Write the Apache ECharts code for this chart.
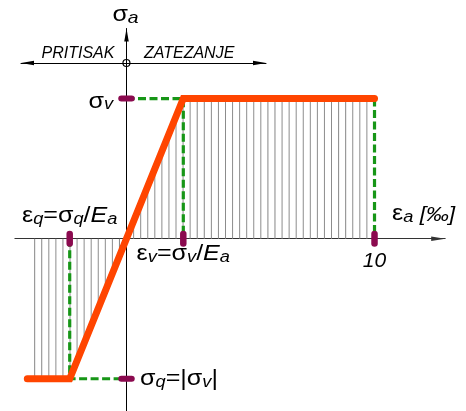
<!DOCTYPE html>
<html>
<head>
<meta charset="utf-8">
<script src="https://cdn.jsdelivr.net/npm/echarts@6/dist/echarts.min.js"></script>
<style>
  html, body { margin: 0; padding: 0; background: #fff; }
  #chart { width: 466px; height: 411px; }
</style>
</head>
<body>
<div id="chart"></div>
<script>
// Idealised σ–ε diagram of reinforcing steel (elastic – perfectly plastic),
// compression to the left, tension to the right.

// working diagram: strain ε_a [‰] and stress σ_a / σ_v
const curveStrain = [-4.0, -2.29, 2.29, 10];
const curveStress = [-1, -1, 1, 1];

// hatched region between the diagram and the strain axis
const hatchStrain = [-3.78, -2.29, 2.29, 9.8];
const hatchStress = [-1, -1, 1, 1];

// characteristic points
const yieldStrain = 2.29;   // ε_v = σ_v / E_a
const yieldStress = 1;      // σ_v
const limitStrain = 10;     // 10 ‰
const strainTicks = [10];

// ---------------------------------------------------------------------------
const FONT = '"Liberation Sans", Arial, sans-serif';
const ORANGE = '#ff4500';
const GREEN = '#179617';
const PURPLE = '#8b0a4f';
const HATCH = '#8c8c8c';
const HATCH_STEP = 0.285;   // spacing of hatch lines, in ‰
const MATH_STRETCH = 1.14;  // horizontal stretch of the formula labels

const pair = (xs, ys) => xs.map((x, i) => [x, ys[i]]);

const guideYield = [[0, yieldStress], [yieldStrain, yieldStress], [yieldStrain, 0]];
const guideComp  = [[-yieldStrain, 0], [-yieldStrain, -yieldStress], [0, -yieldStress]];
const guideLimit = [[limitStrain, yieldStress], [limitStrain, 0]];

const stressMarks = [[0, yieldStress], [0, -yieldStress]];
const strainMarks = [[-yieldStrain, 0], [yieldStrain, 0], [limitStrain, 0]];

const capsuleH = 'path://M3,0 H13 A3,3 0 0 1 13,6 H3 A3,3 0 0 1 3,0 Z';
const capsuleV = 'path://M0,3 A3,3 0 0 1 6,3 V13 A3,3 0 0 1 0,13 Z';

const chart = echarts.init(document.getElementById('chart'), null, { renderer: 'canvas' });

const hiddenAxis = {
  axisTick: { show: false }, axisLabel: { show: false }, splitLine: { show: false }
};

chart.setOption({
  animation: false,
  backgroundColor: '#fff',
  grid: [
    { left: 14.9, right: 20.8, top: 28.5, bottom: 0, outerBoundsMode: 'none' },
    { left: 21, width: 245, top: 62, height: 2, outerBoundsMode: 'none' }
  ],
  xAxis: [
    Object.assign({
      type: 'value', gridIndex: 0, min: -4.5, max: 12.85,
      axisLine: {
        show: true, onZero: true,
        symbol: ['none', 'triangle'], symbolSize: [4.5, 14], symbolOffset: [0, -7],
        lineStyle: { color: '#333', width: 1 }
      }
    }, hiddenAxis),
    Object.assign({
      type: 'value', gridIndex: 1, min: -4.25, max: 5.625,
      axisLine: {
        show: true, onZero: true,
        symbol: ['triangle', 'triangle'], symbolSize: [4.5, 13], symbolOffset: [6.5, -6.5],
        lineStyle: { color: '#000', width: 1 }
      }
    }, hiddenAxis)
  ],
  yAxis: [
    Object.assign({
      type: 'value', gridIndex: 0, min: -1.23, max: 1.5,
      axisLine: {
        show: true, onZero: true,
        symbol: ['none', 'triangle'], symbolSize: [4.5, 13], symbolOffset: [0, -6.5],
        lineStyle: { color: '#000', width: 1 }
      }
    }, hiddenAxis),
    Object.assign({ type: 'value', gridIndex: 1, min: -1, max: 1, axisLine: { show: false } }, hiddenAxis)
  ],
  series: [
    {
      id: 'hatch', type: 'line', z: 1, silent: true,
      data: pair(hatchStrain, hatchStress),
      symbol: 'none',
      lineStyle: { width: 0, opacity: 0 },
      areaStyle: { color: 'transparent', opacity: 1 }
    },
    {
      type: 'lines', coordinateSystem: 'cartesian2d', polyline: true, z: 3, silent: true,
      data: [{ coords: guideYield }, { coords: guideComp }, { coords: guideLimit }],
      lineStyle: { color: GREEN, width: 3.2, type: [8, 3.5], opacity: 1, cap: 'butt' }
    },
    {
      type: 'line', z: 4, silent: true,
      data: pair(curveStrain, curveStress),
      symbol: 'none',
      lineStyle: { color: ORANGE, width: 7, cap: 'round', join: 'miter' }
    },
    {
      type: 'scatter', z: 5, silent: true,
      data: stressMarks, symbol: capsuleH, symbolSize: [16.5, 6],
      itemStyle: { color: PURPLE, opacity: 1 }
    },
    {
      type: 'scatter', z: 5, silent: true,
      data: strainMarks, symbol: capsuleV, symbolSize: [6.5, 16],
      itemStyle: { color: PURPLE, opacity: 1 }
    },
    {
      type: 'scatter', z: 6, silent: true, xAxisIndex: 1, yAxisIndex: 1,
      data: [[0, 0]], symbol: 'circle', symbolSize: 7,
      itemStyle: { color: 'rgba(255,255,255,0)', borderColor: '#000', borderWidth: 1.2, opacity: 1 }
    }
  ]
});

// ---- hatch pattern locked to the strain scale ------------------------------
const origin = chart.convertToPixel({ gridIndex: 0 }, [0, 0]);
const unitX = chart.convertToPixel({ gridIndex: 0 }, [1, 0])[0] - origin[0];
const stepPx = HATCH_STEP * unitX;

const tile = document.createElement('canvas');
tile.width = 7; tile.height = 4;
const tctx = tile.getContext('2d');
tctx.fillStyle = HATCH;
tctx.fillRect(0, 0, 1, 4);
const hatchFill = {
  image: tile, repeat: 'repeat',
  x: origin[0] - 0.5 * stepPx / 7, y: 0,
  scaleX: stepPx / 7, scaleY: 1
};

// ---- annotations -----------------------------------------------------------
// each token's line-height sets how far an index drops below the baseline
const tok = (size, lh, italic) => ({
  fontSize: size, lineHeight: lh, fontFamily: FONT,
  fontStyle: italic ? 'italic' : 'normal', fill: '#000', verticalAlign: 'bottom'
});
const rich = {
  g:  tok(22, 26, false),
  i:  tok(22, 26, true),
  u:  tok(20, 24.5, true),
  n:  tok(21, 26, true),
  s5: tok(16, 11.8, true),
  s4: tok(16, 13.8, true),
  s3: tok(16, 15.8, true),
  s2: tok(16, 17.8, true),
  a3: tok(17, 16.5, true),
  p:  tok(16, 26, true)
};

const px = (pt, dx, dy, grid) => {
  const p = chart.convertToPixel({ gridIndex: grid || 0 }, pt);
  return [p[0] + dx, p[1] + dy];
};

function label(text, pos, align, stretch) {
  return {
    type: 'text', x: pos[0], y: pos[1], z: 10, silent: true,
    scaleX: stretch || 1,
    style: { text: text, rich: rich, align: align, verticalAlign: 'bottom', fill: '#000' }
  };
}

const tickLabels = strainTicks.map(v => label('{n|' + v + '}', px([v, 0], 0, 33), 'center'));

chart.setOption({
  series: [{ id: 'hatch', areaStyle: { color: hatchFill, opacity: 1 } }],
  graphic: [
    label('{g|σ}{a3|a}', px([0, 1.5], -1, -2.1), 'center', MATH_STRETCH),
    label('{p|PRITISAK}', px([0, 0], -12, -1.5, 1), 'right'),
    label('{p|ZATEZANJE}', px([0, 0], 17.5, -1.5, 1), 'left'),
    label('{g|σ}{s5|v}', px([0, yieldStress], -13.5, 14.1), 'right', MATH_STRETCH),
    label('{g|σ}{s3|q}{g|=|σ}{s3|v}{g||}', px([0, -yieldStress], 13.5, 11.4), 'left', MATH_STRETCH),
    label('{g|ε}{s4|q}{g|=σ}{s4|q}{g|/}{i|E}{s3|a}', px([-yieldStrain, 0], 0, -11.3), 'center', MATH_STRETCH),
    label('{g|ε}{s4|v}{g|=σ}{s4|v}{g|/}{i|E}{s3|a}', px([yieldStrain, 0], 0, 26.7), 'center', MATH_STRETCH),
    label('{g|ε}{s2|a}{u| }{u|[‰]}', px([12.85, 0], 10, -13.3), 'right', MATH_STRETCH)
  ].concat(tickLabels)
});
</script>
</body>
</html>
